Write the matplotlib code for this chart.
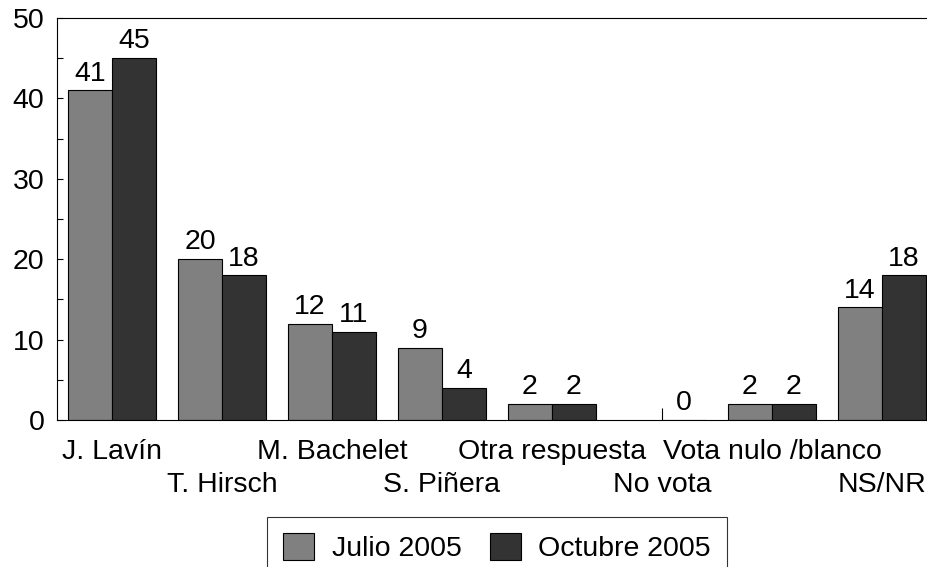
import numpy as np
import matplotlib
matplotlib.use("Agg")
import matplotlib.pyplot as plt
from matplotlib.ticker import MultipleLocator, FixedLocator

plt.rcParams['font.family'] = ['Liberation Sans', 'DejaVu Sans']

categories = ["J. Lavín", "T. Hirsch", "M. Bachelet", "S. Piñera",
              "Otra respuesta", "No vota", "Vota nulo /blanco", "NS/NR"]
julio = [41, 20, 12, 9, 2, np.nan, 2, 14]
octubre = [45, 18, 11, 4, 2, 0, 2, 18]
series_names = ["Julio 2005", "Octubre 2005"]
colors = ["#808080", "#333333"]

fig = plt.figure(figsize=(9.28, 5.67), dpi=100)
W, H = 928, 567
ax = fig.add_axes([57 / W, 1 - 420 / H, (937 - 57) / W, (420 - 18) / H])

x = np.arange(len(categories))
bw = 0.4
fs = 20.5
for vals, off, c, name in [(julio, -bw / 2, colors[0], series_names[0]),
                           (octubre, bw / 2, colors[1], series_names[1])]:
    v = np.array(vals, dtype=float)
    mask = ~np.isnan(v)
    ax.bar(x[mask] + off, v[mask], width=bw, color=c, edgecolor="black",
           linewidth=0.8, label=name)
    for xi, vi in zip(x[mask] + off, v[mask]):
        ax.annotate(f"{int(vi)}", (xi, vi), xytext=(0, 7), textcoords="offset points",
                    ha="center", va="baseline", fontsize=fs)

ax.set_xlim(-0.5, len(categories) - 0.5)
ax.set_ylim(0, 50)
ax.yaxis.set_major_locator(MultipleLocator(10))
ax.yaxis.set_minor_locator(MultipleLocator(5))
ax.tick_params(axis="y", which="both", direction="in", length=4.5, width=0.8,
               labelsize=fs, pad=9)

ax.set_xticks(x)
ax.set_xticklabels(categories, fontsize=fs)
for i, t in enumerate(ax.get_xticklabels()):
    if i % 2 == 1:
        t.set_y(-0.082)
ax.tick_params(axis="x", which="major", length=0, pad=13.5)
# small mark where the Julio value for "No vota" is absent
missing = [i for i, v in enumerate(julio) if np.isnan(v)]
ax.xaxis.remove_overlapping_locs = False
ax.xaxis.set_minor_locator(FixedLocator(missing))
ax.tick_params(axis="x", which="minor", direction="in", length=8.5, width=0.8)

for s in ["left", "top", "bottom", "right"]:
    ax.spines[s].set_linewidth(0.8)

leg = ax.legend(loc="upper center", bbox_to_anchor=(0.5, -0.2413), ncol=2,
                fontsize=fs, frameon=True, fancybox=False, edgecolor="black",
                handlelength=1.1, handleheight=1.1, handletextpad=0.6,
                columnspacing=1.0, borderpad=0.55, borderaxespad=0)
leg.get_frame().set_linewidth(0.8)

fig.savefig("out.png", dpi=100)
